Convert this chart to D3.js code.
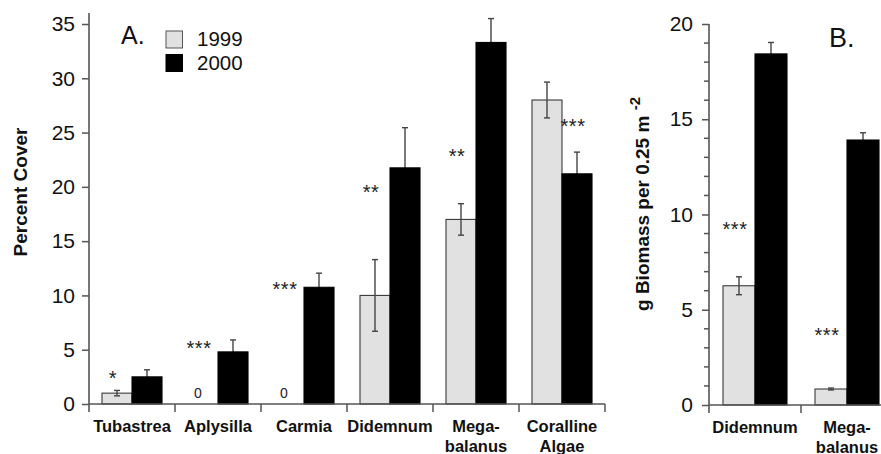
<!DOCTYPE html>
<html>
<head>
<meta charset="utf-8">
<script src="https://cdn.jsdelivr.net/npm/d3@7/dist/d3.min.js"></script>
<style>
  html, body { margin: 0; padding: 0; background: #fff; }
  svg { display: block; font-family: "Liberation Sans", Arial, Helvetica, sans-serif; }
</style>
</head>
<body>
<svg id="chart" width="881" height="454"></svg>
<script>
// Panel A: percent cover by taxon
const catsA = ["Tubastrea", "Aplysilla", "Carmia", "Didemnum", "Mega-\nbalanus", "Coralline\nAlgae"];
const coverA1999 = [1.0, 0, 0, 10.0, 17.0, 28.0];
const coverA1999Err = [0.25, 0, 0, 3.3, 1.45, 1.65];
const coverA2000 = [2.5, 4.8, 10.75, 21.75, 33.3, 21.2];
const coverA2000Err = [0.65, 1.1, 1.3, 3.7, 2.2, 2.0];
const sigA = ["*", "***", "***", "**", "**", "***"];
const sigA_year = ["1999", "1999", "1999", "1999", "1999", "2000"];
const sigA_at = [2.67, 5.43, 10.87, 19.8, 23.1, 25.9];
const ticksA = [0, 5, 10, 15, 20, 25, 30, 35];

// Panel B: biomass per 0.25 m^2
const catsB = ["Didemnum", "Mega-\nbalanus"];
const massB1999 = [6.26, 0.84];
const massB1999Err = [0.47, 0.05];
const massB2000 = [18.43, 13.91];
const massB2000Err = [0.6, 0.38];
const sigB = ["***", "***"];
const sigB_year = ["1999", "1999"];
const sigB_at = [9.4, 3.85];
const ticksB = [0, 5, 10, 15, 20];
const minorTicksB = d3.range(0, 21, 1);

const years = ["1999", "2000"];
const fills = { "1999": "#e1e1e1", "2000": "#000" };

const svg = d3.select("#chart");
const axisColor = "#555";

function panel(opts) {
  const g = svg.append("g");
  const y = d3.scaleLinear().domain(opts.yDomain).range(opts.yRange);
  const x = d3.scaleBand().domain(opts.cats).range(opts.xRange).paddingInner(0).paddingOuter(0);
  const xs = d3.scaleBand().domain(years).range([0, x.bandwidth()]).paddingInner(0).paddingOuter(opts.subPad);

  const rows = [];
  opts.cats.forEach((c, i) => {
    rows.push({ cat: c, year: "1999", v: opts.v1999[i], e: opts.e1999[i] });
    rows.push({ cat: c, year: "2000", v: opts.v2000[i], e: opts.e2000[i] });
  });
  const cx = d => x(d.cat) + xs(d.year) + xs.bandwidth() / 2;

  function errBars(data) {
    const eg = g.append("g").attr("stroke", "#444").attr("stroke-width", 1.4).attr("fill", "none");
    data.filter(d => d.e > 0).forEach(d => {
      const x0 = cx(d);
      eg.append("line").attr("x1", x0).attr("x2", x0).attr("y1", y(d.v - d.e)).attr("y2", y(d.v + d.e));
      [d.v - d.e, d.v + d.e].forEach(t => {
        eg.append("line").attr("x1", x0 - 3).attr("x2", x0 + 3).attr("y1", y(t)).attr("y2", y(t));
      });
    });
  }

  // 2000 error bars sit behind their black bars, so only the upper half shows
  errBars(rows.filter(d => d.year === "2000"));

  g.append("g").selectAll("rect")
    .data(rows.filter(d => d.v > 0))
    .join("rect")
    .attr("x", d => x(d.cat) + xs(d.year))
    .attr("width", xs.bandwidth())
    .attr("y", d => y(d.v))
    .attr("height", d => y(0) - y(d.v))
    .attr("fill", d => fills[d.year])
    .attr("stroke", d => d.year === "1999" ? "#3a3a3a" : "#000")
    .attr("stroke-width", 1.1);

  errBars(rows.filter(d => d.year === "1999"));

  // zero-value bars are labelled "0"
  g.append("g").selectAll("text")
    .data(rows.filter(d => d.v === 0))
    .join("text")
    .attr("x", d => cx(d) - 5)
    .attr("y", y(0) - 6)
    .attr("text-anchor", "middle")
    .attr("font-size", 14)
    .attr("fill", "#222")
    .text(d => String(d.v));

  // significance stars
  g.append("g").selectAll("text")
    .data(opts.cats.map((c, i) => ({ cat: c, year: opts.sigYear[i], at: opts.sigAt[i], s: opts.sig[i] })))
    .join("text")
    .attr("x", d => cx(d) - 4)
    .attr("y", d => y(d.at) + 10)
    .attr("text-anchor", "middle")
    .attr("font-size", 20)
    .attr("letter-spacing", 0.5)
    .attr("fill", "#222")
    .text(d => d.s);

  // y axis
  const yAxis = d3.axisLeft(y).tickValues(opts.ticks).tickSize(7).tickPadding(opts.tickPad).tickSizeOuter(0);
  const ya = g.append("g").attr("transform", `translate(${opts.xRange[0]},0)`).call(yAxis);
  ya.select(".domain").remove();
  ya.selectAll(".tick line").attr("stroke", axisColor).attr("stroke-width", 1.5);
  ya.selectAll(".tick text").attr("font-size", 21).attr("fill", "#111")
    .attr("font-family", "'Liberation Sans', Arial, sans-serif");
  if (opts.minor) {
    g.append("g").selectAll("line")
      .data(opts.minor.filter(v => !opts.ticks.includes(v)))
      .join("line")
      .attr("x1", opts.xRange[0] - 5).attr("x2", opts.xRange[0])
      .attr("y1", d => y(d)).attr("y2", d => y(d))
      .attr("stroke", axisColor).attr("stroke-width", 1.5);
  }
  g.append("line")
    .attr("x1", opts.xRange[0]).attr("x2", opts.xRange[0])
    .attr("y1", y(opts.yDomain[1]) - opts.axisOver).attr("y2", y(0) + 8)
    .attr("stroke", axisColor).attr("stroke-width", 1.6);

  // x axis with category separators
  g.append("line")
    .attr("x1", opts.xRange[0]).attr("x2", opts.xRange[1])
    .attr("y1", y(0)).attr("y2", y(0))
    .attr("stroke", axisColor).attr("stroke-width", 1.6);
  const seps = opts.cats.map(c => x(c)).concat([opts.xRange[1]]).slice(1);
  g.append("g").selectAll("line")
    .data(seps)
    .join("line")
    .attr("x1", d => d).attr("x2", d => d)
    .attr("y1", y(0)).attr("y2", y(0) + 8)
    .attr("stroke", axisColor).attr("stroke-width", 1.5);

  const lab = g.append("g").selectAll("text")
    .data(opts.cats)
    .join("text")
    .attr("x", d => x(d) + x.bandwidth() / 2)
    .attr("y", y(0) + 28)
    .attr("text-anchor", "middle")
    .attr("font-size", 16.5)
    .attr("font-weight", "bold")
    .attr("fill", "#111");
  lab.each(function (d) {
    const t = d3.select(this);
    d.split("\n").forEach((line, k) => {
      t.append("tspan").attr("x", x(d) + x.bandwidth() / 2).attr("dy", k === 0 ? 0 : 19.5).text(line);
    });
  });

  return { g, x, y };
}

const A = panel({
  cats: catsA, v1999: coverA1999, e1999: coverA1999Err, v2000: coverA2000, e2000: coverA2000Err,
  sig: sigA, sigYear: sigA_year, sigAt: sigA_at,
  yDomain: [0, 35], yRange: [404, 24], xRange: [89, 605], subPad: 0.433,
  ticks: ticksA, tickPad: 7, axisOver: 11
});

const B = panel({
  cats: catsB, v1999: massB1999, e1999: massB1999Err, v2000: massB2000, e2000: massB2000Err,
  sig: sigB, sigYear: sigB_year, sigAt: sigB_at,
  yDomain: [0, 20], yRange: [405, 24], xRange: [709, 893], subPad: 0.4375,
  ticks: ticksB, minor: minorTicksB, tickPad: 9, axisOver: 0
});

// y-axis titles
svg.append("text")
  .attr("transform", "translate(27,192) rotate(-90)")
  .attr("text-anchor", "middle")
  .attr("font-size", 19).attr("font-weight", "bold").attr("fill", "#111")
  .text("Percent Cover");

const tB = svg.append("text")
  .attr("transform", "translate(649,204) rotate(-90)")
  .attr("text-anchor", "middle")
  .attr("font-size", 19).attr("font-weight", "bold").attr("fill", "#111");
tB.append("tspan").text("g Biomass per 0.25 m ");
tB.append("tspan").attr("dy", -9).attr("font-size", 15).text("-2");

// panel letters
svg.append("text").attr("x", 121).attr("y", 43.5).attr("font-size", 25).attr("fill", "#111").text("A.");
svg.append("text").attr("x", 829).attr("y", 47).attr("font-size", 27).attr("fill", "#111").text("B.");

// legend
const legend = svg.append("g");
years.forEach((yr, i) => {
  legend.append("rect")
    .attr("x", 166).attr("y", 31 + i * 23.5).attr("width", 16.5).attr("height", 17)
    .attr("fill", fills[yr]).attr("stroke", yr === "1999" ? "#555" : "#000").attr("stroke-width", 1);
  legend.append("text")
    .attr("x", 197).attr("y", 46 + i * 23.5)
    .attr("font-size", 20.5).attr("fill", "#111")
    .text(yr);
});
</script>
</body>
</html>
